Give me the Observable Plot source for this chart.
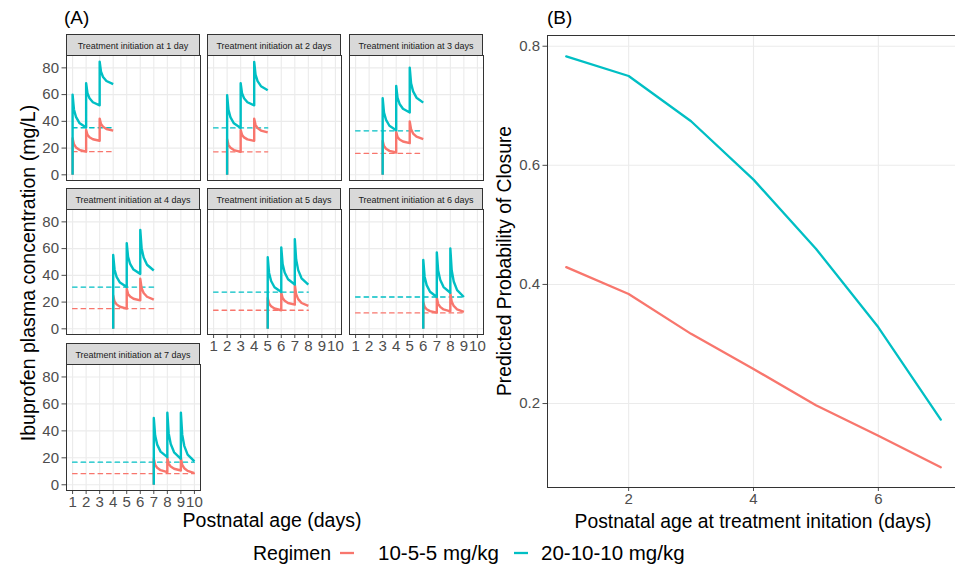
<!DOCTYPE html>
<html><head><meta charset="utf-8">
<script src="https://cdn.jsdelivr.net/npm/d3@7"></script>
<script src="https://cdn.jsdelivr.net/npm/@observablehq/plot@0.6"></script>
<style>
html,body{margin:0;padding:0;background:#fff;}
#root{position:relative;width:955px;height:572px;overflow:hidden;background:#fff;font-family:"Liberation Sans",Arial,sans-serif;}
.cell{position:absolute;}
.cell svg{display:block;max-width:none;}
</style></head><body><div id="root"></div>
<script>
// ---------- DATA ----------
const regimens = ["10-5-5 mg/kg", "20-10-10 mg/kg"];
const startDays = [1, 2, 3, 4, 5, 6, 7];
const stripLabels = [
  "Treatment initiation at 1 day", "Treatment initiation at 2 days", "Treatment initiation at 3 days",
  "Treatment initiation at 4 days", "Treatment initiation at 5 days", "Treatment initiation at 6 days",
  "Treatment initiation at 7 days"
];
const ageTicks = [1, 2, 3, 4, 5, 6, 7, 8, 9, 10];
const concTicks = [0, 20, 40, 60, 80];
// time since first dose (days) of each plotted concentration point
const doseOffsets = [0, 0, 0.1, 0.25, 0.5, 1, 1, 1.1, 1.25, 1.5, 2, 2, 2.1, 2.25, 2.5, 3];
// 10-5-5 mg/kg concentrations (mg/L), one row per initiation day
const conc10 = [
  [0, 27.4, 22.9, 20.5, 18.7, 17.3, 33.6, 30.0, 28.1, 26.6, 25.5, 42.0, 38.0, 35.9, 34.3, 33.0],
  [0, 26.7, 22.4, 20.2, 18.5, 17.2, 33.6, 29.9, 28.0, 26.5, 25.4, 42.0, 37.4, 35.0, 33.1, 31.7],
  [0, 25.4, 21.5, 19.5, 17.9, 16.7, 32.1, 28.3, 26.4, 24.9, 23.7, 39.9, 34.0, 30.9, 28.5, 26.7],
  [0, 25.0, 20.5, 18.3, 16.5, 15.1, 30.0, 26.1, 24.1, 22.5, 21.3, 37.4, 30.4, 26.8, 24.0, 21.8],
  [0, 23.0, 18.9, 16.8, 15.2, 13.9, 27.0, 23.0, 21.0, 19.3, 18.1, 33.0, 25.8, 22.2, 19.3, 17.1],
  [0, 20.0, 16.4, 14.6, 13.2, 12.1, 23.3, 18.7, 16.4, 14.5, 13.1, 26.7, 20.4, 17.1, 14.6, 12.6],
  [0, 19.3, 14.8, 12.6, 10.8, 9.4, 19.8, 15.7, 13.5, 11.9, 10.6, 19.8, 14.8, 12.3, 10.3, 8.7]
];
// 20-10-10 mg/kg concentrations (mg/L)
const conc20 = [
  [0, 60.0, 48.9, 43.3, 38.8, 35.4, 68.5, 61.1, 57.3, 54.3, 52.0, 84.7, 77.1, 73.2, 70.2, 67.8],
  [0, 59.6, 48.6, 42.9, 38.5, 35.1, 68.5, 61.1, 57.3, 54.3, 52.0, 84.5, 75.0, 70.1, 66.3, 63.3],
  [0, 57.3, 46.5, 41.1, 36.7, 33.4, 66.5, 57.5, 53.0, 49.4, 46.6, 80.2, 68.4, 62.4, 57.7, 54.0],
  [0, 55.2, 44.4, 38.9, 34.6, 31.2, 64.1, 53.8, 48.5, 44.3, 41.1, 74.0, 60.3, 53.3, 47.9, 43.6],
  [0, 53.5, 41.8, 35.8, 31.1, 27.5, 60.9, 48.4, 42.1, 37.1, 33.2, 67.1, 51.8, 43.9, 37.8, 33.0],
  [0, 51.5, 39.0, 32.7, 27.7, 23.8, 57.2, 43.6, 36.7, 31.2, 27.0, 60.1, 43.8, 35.4, 28.9, 23.8],
  [0, 49.5, 36.5, 29.8, 24.6, 20.5, 53.5, 38.1, 30.2, 24.1, 19.3, 53.5, 37.2, 28.9, 22.4, 17.3]
];
// dashed reference levels (mg/L)
const target10 = [17.3, 17.2, 16.0, 15.1, 13.9, 11.9, 8.2];
const target20 = [35.2, 35.1, 32.9, 31.2, 27.5, 23.8, 16.8];
// panel B
const initDays = [1, 2, 3, 4, 5, 6, 7];
const prob10 = [0.429, 0.384, 0.317, 0.258, 0.197, 0.146, 0.093];
const prob20 = [0.783, 0.750, 0.674, 0.576, 0.460, 0.328, 0.173];
const probXTicks = [2, 4, 6];
const probYTicks = [0.2, 0.4, 0.6, 0.8];

// ---------- STYLE / LAYOUT ----------
const FONT = '"Liberation Sans", Arial, sans-serif';
const RED = "#F8766D", TEAL = "#00BFC4";
const GRID = "#EBEBEB", BORDER = "#333333";
const panelLeft = [66, 207, 349];
const stripTop = [34, 188, 343];
const stripH = 21, pw = 134;

const root = document.getElementById("root");
const ov = d3.select(root).append("svg")
  .attr("width", 955).attr("height", 572)
  .style("position", "absolute").style("left", "0px").style("top", "0px")
  .style("font-family", FONT);

function txt(x, y, s, size, opts = {}) {
  const t = ov.append("text").attr("x", x).attr("y", y).text(s)
    .attr("font-size", size).attr("fill", opts.fill || "#000")
    .attr("text-anchor", opts.anchor || "start");
  if (opts.rotate) t.attr("transform", `rotate(-90,${x},${y})`);
  return t;
}

function addCell(left, top, svg) {
  const div = document.createElement("div");
  div.className = "cell";
  div.style.left = left + "px";
  div.style.top = top + "px";
  div.appendChild(svg);
  root.appendChild(div);
}

// ---------- PANEL A ----------
startDays.forEach((d, i) => {
  const col = i % 3, row = Math.floor(i / 3);
  const showY = col === 0;
  const showX = row === 2 || (row === 1 && col > 0);
  const L = panelLeft[col], S = stripTop[row];
  const ph = row === 2 ? 126 : 125;
  const ml = showY ? 34 : 0, mr = 8, mt = 1, mb = showX ? 24 : 1;

  // strip
  ov.append("rect").attr("x", L + 0.5).attr("y", S + 0.5).attr("width", pw - 1).attr("height", stripH)
    .attr("fill", "#D9D9D9").attr("stroke", BORDER).attr("stroke-width", 1);
  txt(L + pw / 2, S + 14.5, stripLabels[i], 9, {anchor: "middle", fill: "#1A1A1A"});

  const red = doseOffsets.map((o, k) => ({t: d + o, c: conc10[i][k]}));
  const teal = doseOffsets.map((o, k) => ({t: d + o, c: conc20[i][k]}));
  const endT = d + doseOffsets[doseOffsets.length - 1];
  const dashRed = [{t: ageTicks[0], c: target10[i]}, {t: endT, c: target10[i]}];
  const dashTeal = [{t: ageTicks[0], c: target20[i]}, {t: endT, c: target20[i]}];

  const p = Plot.plot({
    width: ml + pw + mr, height: mt + ph + mb,
    marginLeft: ml, marginRight: mr, marginTop: mt, marginBottom: mb,
    style: {fontSize: "15px", fontFamily: FONT, color: "#4D4D4D", background: "transparent", overflow: "visible"},
    x: {domain: [0.55, 10.45], ticks: ageTicks, tickSize: 4, tickPadding: 2, tickFormat: d3.format("d"), label: null, axis: showX ? "bottom" : null},
    y: {domain: [-4.25, 89.25], ticks: concTicks, tickSize: 4.5, tickPadding: 3, tickFormat: d3.format("d"), label: null, axis: showY ? "left" : null},
    marks: [
      Plot.ruleX(ageTicks, {stroke: GRID, strokeWidth: 1.1}),
      Plot.ruleY(concTicks, {stroke: GRID, strokeWidth: 1.1}),
      Plot.line(dashRed, {x: "t", y: "c", stroke: RED, strokeWidth: 1.3, strokeDasharray: "4.5,4"}),
      Plot.line(dashTeal, {x: "t", y: "c", stroke: TEAL, strokeWidth: 1.3, strokeDasharray: "4.5,4"}),
      Plot.line(red, {x: "t", y: "c", stroke: RED, strokeWidth: 2.4, strokeLinecap: "butt"}),
      Plot.line(teal, {x: "t", y: "c", stroke: TEAL, strokeWidth: 2.4, strokeLinecap: "butt"}),
      Plot.frame({stroke: BORDER, strokeWidth: 1})
    ]
  });
  addCell(L - ml, S + stripH - mt, p);
});

// ---------- PANEL B ----------
{
  const ml = 40, mt = 1, mb = 26, mr = 0;
  const W = 412, H = 452;
  const r10 = initDays.map((x, k) => ({x, p: prob10[k]}));
  const r20 = initDays.map((x, k) => ({x, p: prob20[k]}));
  const p = Plot.plot({
    width: ml + W + mr, height: mt + H + mb,
    marginLeft: ml, marginRight: mr, marginTop: mt, marginBottom: mb,
    style: {fontSize: "15px", fontFamily: FONT, color: "#4D4D4D", background: "transparent", overflow: "visible"},
    x: {domain: [0.7, 7.3], ticks: probXTicks, tickSize: 4, tickPadding: 2, tickFormat: d3.format("d"), label: null},
    y: {domain: [0.059, 0.818], ticks: probYTicks, tickSize: 4.5, tickPadding: 3, tickFormat: d3.format(".1f"), label: null},
    marks: [
      Plot.ruleX(probXTicks, {stroke: GRID, strokeWidth: 1.1}),
      Plot.ruleY(probYTicks, {stroke: GRID, strokeWidth: 1.1}),
      Plot.line(r10, {x: "x", y: "p", stroke: RED, strokeWidth: 2.3}),
      Plot.line(r20, {x: "x", y: "p", stroke: TEAL, strokeWidth: 2.3}),
      Plot.frame({stroke: BORDER, strokeWidth: 1})
    ]
  });
  addCell(547 - ml, 35 - mt, p);
}

// ---------- TEXT ----------
txt(64, 24, "(A)", 19);
txt(547, 24, "(B)", 19);
txt(272, 527, "Postnatal age (days)", 19.5, {anchor: "middle"});
txt(753, 528, "Postnatal age at treatment initation (days)", 19.3, {anchor: "middle"});
txt(35, 273, "Ibuprofen plasma concentration (mg/L)", 19.6, {anchor: "middle", rotate: true});
txt(511, 261, "Predicted Probability of Closure", 19.3, {anchor: "middle", rotate: true});

// legend
txt(253, 560, "Regimen", 19.5);
ov.append("line").attr("x1", 340).attr("x2", 354).attr("y1", 553).attr("y2", 553).attr("stroke", RED).attr("stroke-width", 2.3);
txt(378, 560, regimens[0], 20.5);
ov.append("line").attr("x1", 514).attr("x2", 528).attr("y1", 553).attr("y2", 553).attr("stroke", TEAL).attr("stroke-width", 2.3);
txt(541, 560, regimens[1], 20.5);
</script></body></html>
